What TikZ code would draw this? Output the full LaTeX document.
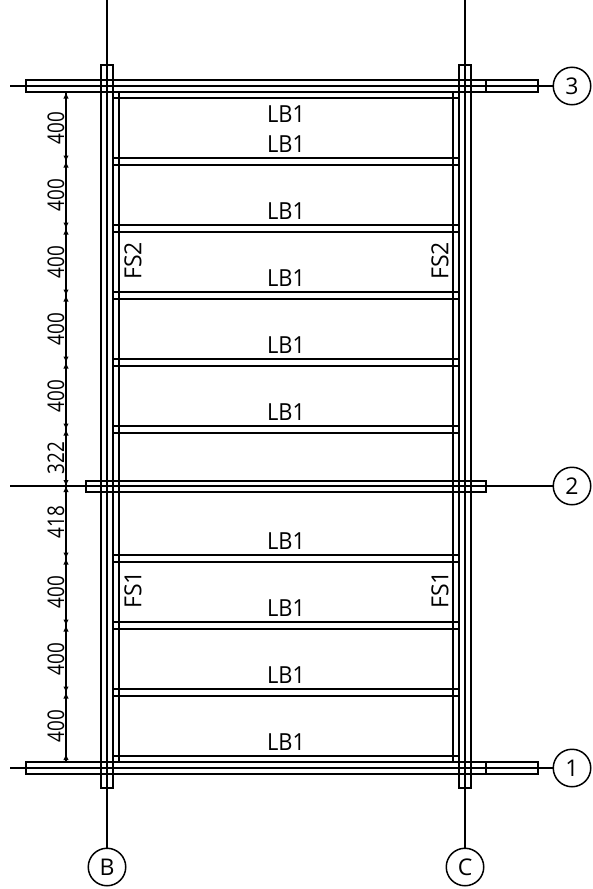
\documentclass[tikz,border=0pt]{standalone}
\usepackage{fontspec}
\setmainfont{Open Sans}
\tikzset{
  px/.style={x=1pt,y=-1pt},
  member/.style={draw=black,line width=1.6pt,fill=none},
  axisline/.style={draw=black,line width=1.7pt},
  dimline/.style={draw=black,line width=1.4pt},
  bubble/.style={circle,draw=black,line width=1.5pt,minimum size=37.5pt,inner sep=0pt,font=\fontsize{23}{23}\selectfont},
  lab/.style={inner sep=0pt,font=\fontsize{23.5}{24}\selectfont,xscale=.93},
  rotlab/.style={inner sep=0pt,font=\fontsize{23}{23}\selectfont,rotate=90,xscale=.82},
  rotfs/.style={inner sep=0pt,font=\fontsize{23.5}{24}\selectfont,rotate=90,xscale=.98},
}
\begin{document}
\begin{tikzpicture}[px]
\useasboundingbox (0,0) rectangle (592,889);
% bubbles
\node[bubble] (g3) at (572,86) {3};
\node[bubble] (g2) at (572,486) {2};
\node[bubble] (g1) at (572,768) {1};
\node[bubble] (gB) at (107,867) {B};
\node[bubble] (gC) at (465,867) {C};
% free axis ends
\coordinate (a3) at (10,86);
\coordinate (a2) at (10,486);
\coordinate (a1) at (10,768);
\coordinate (aB) at (107,0);
\coordinate (aC) at (465,0);
% axes
\draw[axisline] (a3) -- (g3.west);
\draw[axisline] (a2) -- (g2.west);
\draw[axisline] (a1) -- (g1.west);
\draw[axisline] (aB) -- (aB |- gB.north);
\draw[axisline] (aC) -- (aC |- gC.north);
% beams
\foreach \y/\h in {92/6,158/7,225/7,292/7,359/7,426/7,555/7,622/7,689/7,756/6}{
  \draw[member] (113,\y) rectangle (459,\y+\h);
}
% edge members
\draw[member] (113,92) rectangle (119,762);
\draw[member] (453,92) rectangle (459,762);
% girders
\draw[member] (26,80) rectangle (486,92);
\draw[member] (486,80) rectangle (538,92);
\draw[member] (86,481) rectangle (486,492);
\draw[member] (26,762) rectangle (486,774);
\draw[member] (486,762) rectangle (538,774);
% columns
\draw[member] (101,65) rectangle (113,788);
\draw[member] (459,65) rectangle (471,788);
% dimension chain
\coordinate (d0) at (66,92);
\coordinate (d1) at (66,761);
\draw[dimline] (d0) -- (d1);
\foreach \y in {161.5,228.5,295.5,362.5,429.5,486,558.5,625.5,692.5}{
  \fill (66,\y-1) -- ++(-2.6,-5) -- ++(5.2,0) -- cycle;
  \fill (66,\y+1) -- ++(-2.6,5) -- ++(5.2,0) -- cycle;
}
\fill (66,93.5) -- ++(-2.6,5) -- ++(5.2,0) -- cycle;
\fill (66,755) -- ++(-2.6,5) -- ++(5.2,0) -- cycle;
% dimension text
\foreach \y/\t in {128/400,195/400,262/400,329/400,396/400,458/322,522/418,592/400,659/400,726/400}{
  \node[rotlab] (dim\y) at (56,\y) {\t};
}
% beam labels
\foreach \y in {114,144,211,278,345,412,541,608,675,742}{
  \node[lab] (lb\y) at (286,\y) {LB1};
}
\node[rotfs] (fs2l) at (133,261) {FS2};
\node[rotfs] (fs2r) at (440,261) {FS2};
\node[rotfs] (fs1l) at (133,590) {FS1};
\node[rotfs] (fs1r) at (440,590) {FS1};
\end{tikzpicture}
\end{document}
